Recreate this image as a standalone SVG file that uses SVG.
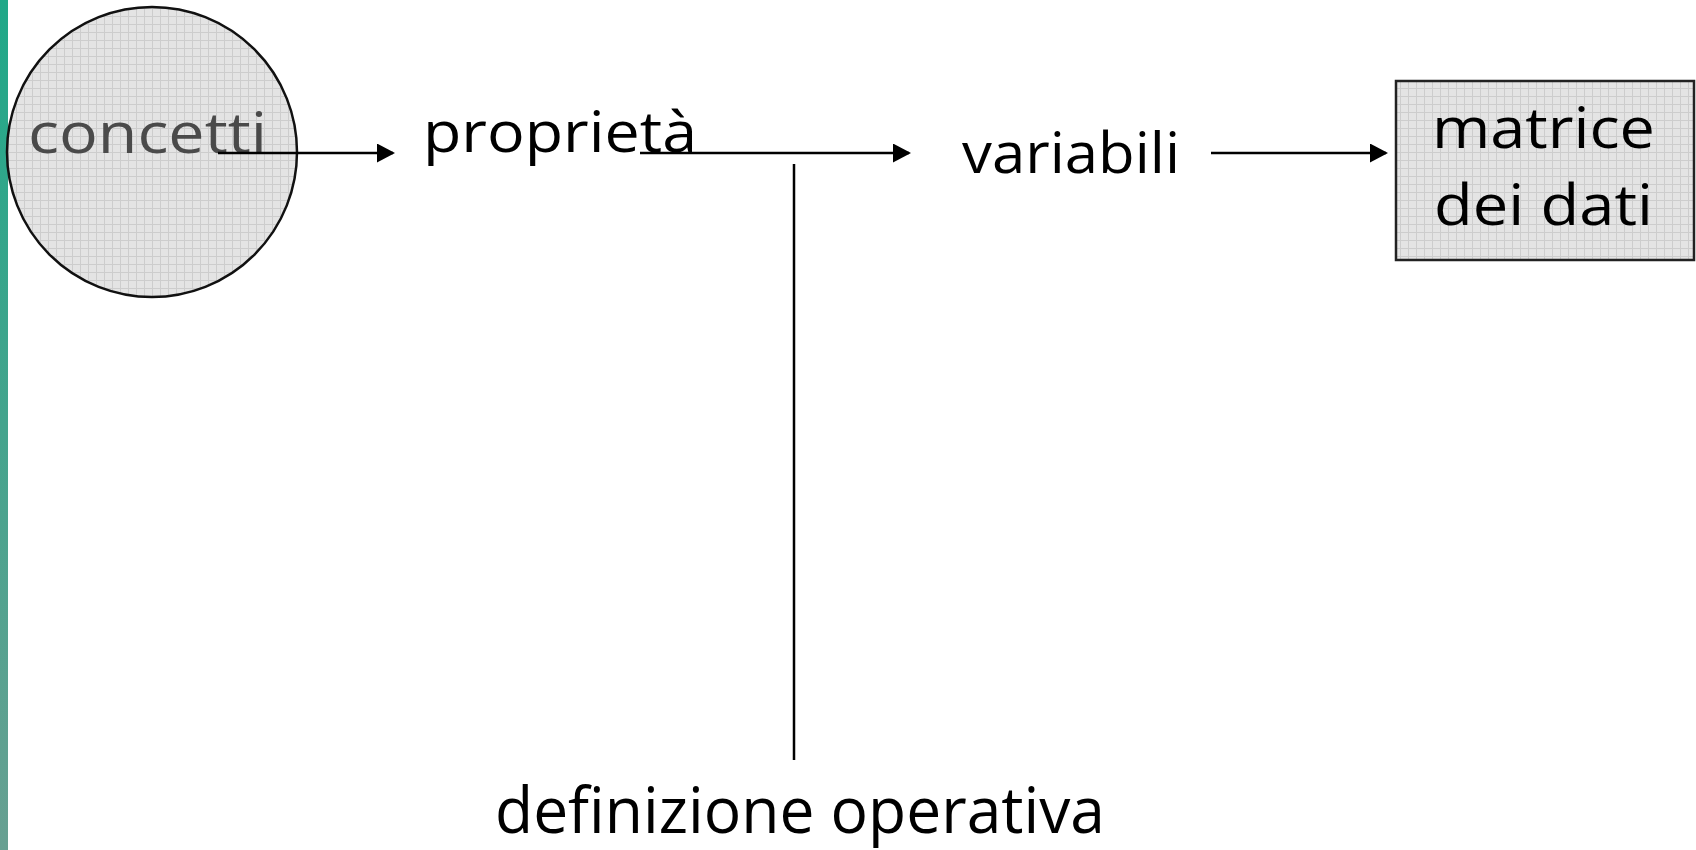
<svg xmlns="http://www.w3.org/2000/svg" width="1696" height="850" viewBox="0 0 1696 850">
  <defs>
    <linearGradient id="bar" x1="0" y1="0" x2="0" y2="1">
      <stop offset="0" stop-color="#20a888"/>
      <stop offset="1" stop-color="#68a092"/>
    </linearGradient>
    <pattern id="grid" width="8" height="8" patternUnits="userSpaceOnUse">
      <rect width="8" height="8" fill="#e4e4e4"/>
      <path d="M0 0.5H8M0.5 0V8" stroke="#cdcdcd" stroke-width="1"/>
    </pattern>
    <marker id="arrow" viewBox="0 0 18 19" refX="16" refY="9.5" markerWidth="18" markerHeight="19" markerUnits="userSpaceOnUse" orient="auto">
      <path d="M0 0L18 9.5L0 19Z" fill="#000"/>
    </marker>
  </defs>
  <style>
    .lbl { font-family: "Open Sans", "Noto Sans", "Liberation Sans", sans-serif; font-size: 56px; font-weight: 500; fill: #000; }
    .big { font-size: 64px; }
    .conn { stroke: #000; stroke-width: 2.5; fill: none; }
  </style>
  <rect x="0" y="0" width="1696" height="850" fill="#fff"/>
  <rect x="0" y="0" width="8" height="850" fill="url(#bar)"/>

  <g id="node-concetti">
    <circle cx="152" cy="152" r="145" fill="url(#grid)" stroke="#111" stroke-width="2.5"/>
    <text class="lbl" x="28" y="153" textLength="239" lengthAdjust="spacingAndGlyphs" style="fill:#4a4a4a">concetti</text>
  </g>

  <g id="node-proprieta">
    <text class="lbl" x="423" y="152" textLength="274" lengthAdjust="spacingAndGlyphs">proprietà</text>
  </g>

  <g id="node-variabili">
    <text class="lbl" x="962" y="173" textLength="218" lengthAdjust="spacingAndGlyphs">variabili</text>
  </g>

  <g id="node-matrice">
    <rect x="1396" y="81" width="298" height="179" fill="url(#grid)" stroke="#222" stroke-width="2.5"/>
    <text class="lbl" x="1432" y="148" textLength="223" lengthAdjust="spacingAndGlyphs">matrice</text>
    <text class="lbl" x="1434" y="225" textLength="219" lengthAdjust="spacingAndGlyphs">dei dati</text>
  </g>

  <g id="node-definizione">
    <text class="lbl big" x="495" y="833" textLength="610" lengthAdjust="spacingAndGlyphs">definizione operativa</text>
  </g>

  <g id="connectors">
    <line class="conn" x1="218" y1="153" x2="393" y2="153" marker-end="url(#arrow)"/>
    <line class="conn" x1="640" y1="153" x2="909" y2="153" marker-end="url(#arrow)"/>
    <line class="conn" x1="1211" y1="153" x2="1386" y2="153" marker-end="url(#arrow)"/>
    <line class="conn" x1="794" y1="164" x2="794" y2="760"/>
  </g>
</svg>
